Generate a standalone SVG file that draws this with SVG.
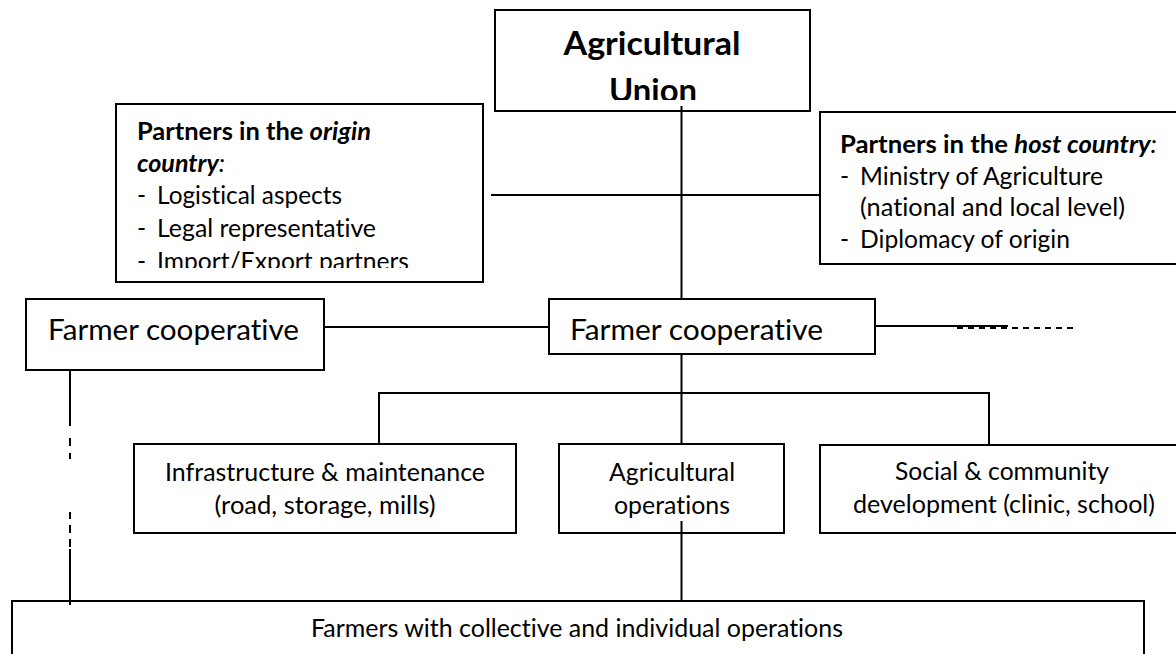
<svg xmlns="http://www.w3.org/2000/svg" width="1176" height="654" viewBox="0 0 1176 654">
  <style>
    .box { fill: #fff; stroke: #000; stroke-width: 2; }
    .ln { fill: none; stroke: #000; stroke-width: 2; }
    .dash { fill: none; stroke: #000; stroke-width: 2; stroke-dasharray: 6 5; }
    text { font-family: Lato, "Open Sans", "Liberation Sans", sans-serif; fill: #000; font-variant-ligatures: none; }
    .body { font-size: 24.5px; }
    .coop { font-size: 29px; }
    .title { font-size: 33px; font-weight: bold; }
    .b { font-weight: bold; }
    .i { font-style: italic; }
    .bi { font-weight: bold; font-style: italic; }
    .c { text-anchor: middle; }
  </style>
  <defs>
    <clipPath id="clip-union"><rect x="496" y="11" width="313" height="89"/></clipPath>
    <clipPath id="clip-origin"><rect x="117" y="105" width="365" height="163"/></clipPath>
  </defs>

  <rect width="1176" height="654" fill="#fff"/>

  <!-- top: union -->
  <g id="agricultural-union">
    <rect class="box" x="495" y="10" width="315" height="101"/>
    <g clip-path="url(#clip-union)">
      <text class="title c" x="652" y="55" textLength="177" lengthAdjust="spacingAndGlyphs">Agricultural</text>
      <text class="title c" x="653" y="102" textLength="88" lengthAdjust="spacingAndGlyphs">Union</text>
    </g>
  </g>

  <!-- partners, origin side -->
  <g id="partners-origin">
    <rect class="box" x="116" y="104" width="367" height="178"/>
    <g clip-path="url(#clip-origin)" class="body">
      <text x="137" y="140" textLength="234" lengthAdjust="spacingAndGlyphs"><tspan class="b">Partners in the </tspan><tspan class="bi">origin</tspan></text>
      <text x="137" y="172" textLength="88" lengthAdjust="spacingAndGlyphs"><tspan class="bi">country</tspan><tspan class="i">:</tspan></text>
      <text x="137" y="204">-</text>
      <text x="157" y="204" textLength="185" lengthAdjust="spacingAndGlyphs">Logistical aspects</text>
      <text x="137" y="237">-</text>
      <text x="157" y="237" textLength="219" lengthAdjust="spacingAndGlyphs">Legal representative</text>
      <text x="137" y="270">-</text>
      <text x="157" y="270" textLength="252" lengthAdjust="spacingAndGlyphs">Import/Export partners</text>
    </g>
  </g>

  <!-- partners, host side -->
  <g id="partners-host" class="body">
    <rect class="box" x="820" y="112" width="362" height="152"/>
    <text x="840" y="153" textLength="317" lengthAdjust="spacingAndGlyphs"><tspan class="b">Partners in the </tspan><tspan class="bi">host country</tspan><tspan class="i">:</tspan></text>
    <text x="840" y="185">-</text>
    <text x="860" y="185" textLength="243" lengthAdjust="spacingAndGlyphs">Ministry of Agriculture</text>
    <text x="860" y="216" textLength="265" lengthAdjust="spacingAndGlyphs">(national and local level)</text>
    <text x="840" y="248">-</text>
    <text x="860" y="248" textLength="210" lengthAdjust="spacingAndGlyphs">Diplomacy of origin</text>
  </g>

  <!-- cooperatives -->
  <g id="coop-left">
    <rect class="box" x="26" y="299" width="298" height="71"/>
    <text class="coop" x="48" y="340" textLength="251" lengthAdjust="spacingAndGlyphs">Farmer cooperative</text>
  </g>
  <g id="coop-center">
    <rect class="box" x="549" y="299" width="326" height="55"/>
    <text class="coop" x="570" y="340" textLength="253" lengthAdjust="spacingAndGlyphs">Farmer cooperative</text>
  </g>

  <!-- activity branches -->
  <g id="infrastructure" class="body">
    <rect class="box" x="134" y="444" width="382" height="89"/>
    <text class="c" x="325" y="481" textLength="320" lengthAdjust="spacingAndGlyphs">Infrastructure &amp; maintenance</text>
    <text class="c" x="325" y="514" textLength="221" lengthAdjust="spacingAndGlyphs">(road, storage, mills)</text>
  </g>
  <g id="operations" class="body">
    <rect class="box" x="559" y="444" width="225" height="89"/>
    <text class="c" x="672" y="481" textLength="126" lengthAdjust="spacingAndGlyphs">Agricultural</text>
    <text class="c" x="672" y="514" textLength="116" lengthAdjust="spacingAndGlyphs">operations</text>
  </g>
  <g id="social" class="body">
    <rect class="box" x="820" y="445" width="362" height="88"/>
    <text class="c" x="1002" y="480" textLength="214" lengthAdjust="spacingAndGlyphs">Social &amp; community</text>
    <text class="c" x="1004" y="513" textLength="302" lengthAdjust="spacingAndGlyphs">development (clinic, school)</text>
  </g>

  <!-- farmers -->
  <g id="farmers" class="body">
    <rect class="box" x="12" y="601" width="1132" height="70"/>
    <text class="c" x="577" y="637" textLength="532" lengthAdjust="spacingAndGlyphs">Farmers with collective and individual operations</text>
  </g>

  <!-- connectors -->
  <g id="connectors">
    <line class="ln" x1="681.5" y1="106" x2="681.5" y2="299"/>
    <line class="ln" x1="491" y1="195" x2="820" y2="195"/>
    <line class="ln" x1="324" y1="327" x2="549" y2="327"/>
    <line class="ln" x1="875" y1="326" x2="1008" y2="326"/>
    <line class="dash" x1="957" y1="328" x2="1076" y2="328"/>
    <line class="ln" x1="681.5" y1="354" x2="681.5" y2="444"/>
    <polyline class="ln" points="379,445 379,393 989,393 989,445"/>
    <line class="ln" x1="681.5" y1="521" x2="681.5" y2="601"/>
    <!-- left cooperative down to farmers, broken -->
    <line class="ln" x1="70" y1="371" x2="70" y2="426"/>
    <line class="ln" x1="70" y1="438" x2="70" y2="446"/>
    <line class="ln" x1="70" y1="453" x2="70" y2="459"/>
    <line class="ln" x1="70" y1="512" x2="70" y2="519"/>
    <line class="ln" x1="70" y1="525" x2="70" y2="533"/>
    <line class="ln" x1="70" y1="539" x2="70" y2="547"/>
    <line class="ln" x1="70" y1="549" x2="70" y2="605"/>
  </g>
</svg>
